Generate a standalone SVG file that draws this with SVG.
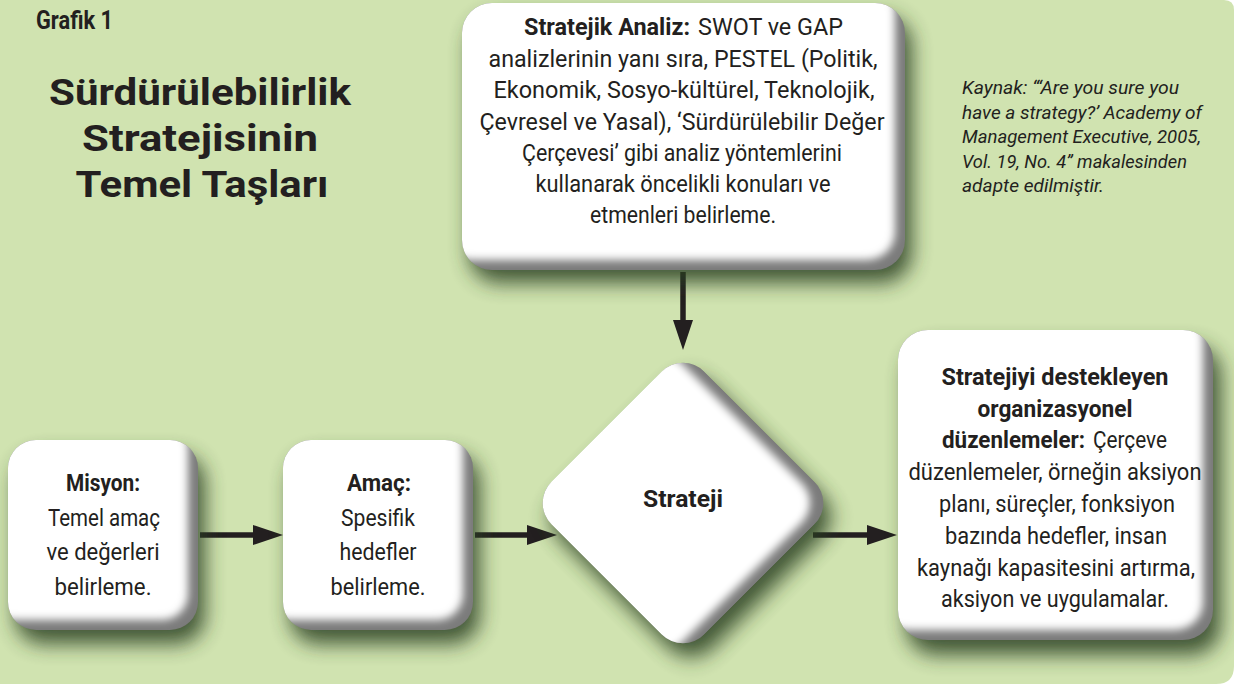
<svg xmlns="http://www.w3.org/2000/svg" width="1234" height="684" viewBox="0 0 1234 684">
<style>
text{font-family:Roboto,"Liberation Sans",sans-serif;fill:#231f20;}
.t{font-size:24px;text-anchor:middle;}
.s{font-size:24px;text-anchor:start;}
.e{font-size:24px;text-anchor:end;}
.b{font-weight:bold;}
.title{font-size:37px;font-weight:bold;text-anchor:middle;}
.src{font-size:18.5px;font-style:italic;}
.sh{fill:#2c3f20;opacity:0.85;}
.base{fill:#7b7b7b;}
.face{fill:#ffffff;}
.con{stroke:#231f20;stroke-width:5.5;fill:none;}
</style>
<defs>
<filter id="shf" x="-30%" y="-30%" width="160%" height="160%"><feGaussianBlur stdDeviation="10"/></filter>
<filter id="bev" x="-20%" y="-20%" width="140%" height="140%"><feGaussianBlur stdDeviation="4.5"/></filter>
<marker id="ah" viewBox="0 0 30 20" refX="0" refY="10" markerWidth="30" markerHeight="20" markerUnits="userSpaceOnUse" orient="auto"><path d="M0,0 L30,10 L0,20 Z" fill="#231f20"/></marker>
<clipPath id="c-top"><rect x="462" y="3" width="443" height="267" rx="30"/></clipPath>
<clipPath id="c-mis"><rect x="8" y="440" width="190" height="190" rx="28"/></clipPath>
<clipPath id="c-ama"><rect x="283" y="440" width="190" height="190" rx="28"/></clipPath>
<clipPath id="c-rig"><rect x="898" y="330" width="315" height="310" rx="30"/></clipPath>
<clipPath id="c-str"><rect x="575" y="395" width="216" height="216" rx="30"/></clipPath>
</defs>

<rect x="0" y="0" width="1234" height="684" fill="#d0e3b0"/>
<path d="M1224,0 Q1234,0 1234,10 L1234,0 Z" fill="#ffffff"/>

<g id="heading">
<text x="36" y="29" class="b" style="font-size:26px" textLength="77" lengthAdjust="spacingAndGlyphs">Grafik 1</text>
<text x="200" y="105" class="title" textLength="302" lengthAdjust="spacingAndGlyphs">Sürdürülebilirlik</text>
<text x="200" y="151" class="title" textLength="236" lengthAdjust="spacingAndGlyphs">Stratejisinin</text>
<text x="202" y="197" class="title" textLength="253" lengthAdjust="spacingAndGlyphs">Temel Taşları</text>
</g>

<g id="source">
<text x="962" y="94" class="src" textLength="217" lengthAdjust="spacingAndGlyphs">Kaynak: “‘Are you sure you</text>
<text x="962" y="118.5" class="src" textLength="240" lengthAdjust="spacingAndGlyphs">have a strategy?’ Academy of</text>
<text x="962" y="143" class="src" textLength="239" lengthAdjust="spacingAndGlyphs">Management Executive, 2005,</text>
<text x="962" y="167.5" class="src" textLength="225" lengthAdjust="spacingAndGlyphs">Vol. 19, No. 4” makalesinden</text>
<text x="962" y="192" class="src" textLength="142" lengthAdjust="spacingAndGlyphs">adapte edilmiştir.</text>
</g>

<g id="connectors">
<path class="con" d="M683,272 V320" marker-end="url(#ah)"/>
<path class="con" d="M200,535 H253" marker-end="url(#ah)"/>
<path class="con" d="M475,535 H527" marker-end="url(#ah)"/>
<path class="con" d="M813,535 H867" marker-end="url(#ah)"/>
</g>

<g id="node-analiz">
<rect class="sh" x="469" y="16" width="443" height="267" rx="30" filter="url(#shf)"/>
<g clip-path="url(#c-top)">
<rect class="base" x="462" y="3" width="443" height="267"/>
<rect class="face" x="442" y="-17" width="453" height="277" rx="28" filter="url(#bev)"/>
</g>
<text x="524" y="35" class="s b" textLength="166" lengthAdjust="spacingAndGlyphs">Stratejik Analiz:</text>
<text x="843" y="35" class="e" textLength="145" lengthAdjust="spacingAndGlyphs">SWOT ve GAP</text>
<text x="683" y="66.5" class="t" textLength="389" lengthAdjust="spacingAndGlyphs">analizlerinin yanı sıra, PESTEL (Politik,</text>
<text x="684" y="98" class="t" textLength="381" lengthAdjust="spacingAndGlyphs">Ekonomik, Sosyo-kültürel, Teknolojik,</text>
<text x="682" y="129.5" class="t" textLength="405" lengthAdjust="spacingAndGlyphs">Çevresel ve Yasal), ‘Sürdürülebilir Değer</text>
<text x="682" y="161" class="t" textLength="320" lengthAdjust="spacingAndGlyphs">Çerçevesi’ gibi analiz yöntemlerini</text>
<text x="683" y="192" class="t" textLength="295" lengthAdjust="spacingAndGlyphs">kullanarak öncelikli konuları ve</text>
<text x="683" y="223" class="t" textLength="186" lengthAdjust="spacingAndGlyphs">etmenleri belirleme.</text>
</g>

<g id="node-misyon">
<rect class="sh" x="15" y="454" width="190" height="190" rx="28" filter="url(#shf)"/>
<g clip-path="url(#c-mis)">
<rect class="base" x="8" y="440" width="190" height="190"/>
<rect class="face" x="-12" y="420" width="200" height="200" rx="26" filter="url(#bev)"/>
</g>
<text x="103" y="491" class="t b" textLength="74" lengthAdjust="spacingAndGlyphs">Misyon:</text>
<text x="104" y="526" class="t" textLength="112" lengthAdjust="spacingAndGlyphs">Temel amaç</text>
<text x="103" y="560" class="t" textLength="113" lengthAdjust="spacingAndGlyphs">ve değerleri</text>
<text x="103" y="595" class="t" textLength="97" lengthAdjust="spacingAndGlyphs">belirleme.</text>
</g>

<g id="node-amac">
<rect class="sh" x="290" y="454" width="190" height="190" rx="28" filter="url(#shf)"/>
<g clip-path="url(#c-ama)">
<rect class="base" x="283" y="440" width="190" height="190"/>
<rect class="face" x="263" y="420" width="200" height="200" rx="26" filter="url(#bev)"/>
</g>
<text x="379" y="491" class="t b" textLength="64" lengthAdjust="spacingAndGlyphs">Amaç:</text>
<text x="378" y="526" class="t" textLength="74" lengthAdjust="spacingAndGlyphs">Spesifik</text>
<text x="378" y="560" class="t" textLength="77" lengthAdjust="spacingAndGlyphs">hedefler</text>
<text x="378" y="595" class="t" textLength="95" lengthAdjust="spacingAndGlyphs">belirleme.</text>
</g>

<g id="node-strateji">
<rect class="sh" x="575" y="395" width="216" height="216" rx="30" filter="url(#shf)" transform="translate(8 14) rotate(-45 683 503)"/>
<g transform="rotate(-45 683 503)">
<g clip-path="url(#c-str)">
<rect class="base" x="575" y="395" width="216" height="216"/>
<rect class="face" x="555" y="375" width="226" height="226" rx="28" filter="url(#bev)"/>
</g>
</g>
<text x="683" y="507" class="t b" textLength="80" lengthAdjust="spacingAndGlyphs">Strateji</text>
</g>

<g id="node-duzen">
<rect class="sh" x="906" y="345" width="315" height="310" rx="30" filter="url(#shf)"/>
<g clip-path="url(#c-rig)">
<rect class="base" x="898" y="330" width="315" height="310"/>
<rect class="face" x="878" y="310" width="325" height="320" rx="28" filter="url(#bev)"/>
</g>
<text x="1055" y="385" class="t b" textLength="227" lengthAdjust="spacingAndGlyphs">Stratejiyi destekleyen</text>
<text x="1055" y="417" class="t b" textLength="155" lengthAdjust="spacingAndGlyphs">organizasyonel</text>
<text x="942" y="448" class="s b" textLength="143" lengthAdjust="spacingAndGlyphs">düzenlemeler:</text>
<text x="1167" y="448" class="e" textLength="74" lengthAdjust="spacingAndGlyphs">Çerçeve</text>
<text x="1055" y="480" class="t" textLength="293" lengthAdjust="spacingAndGlyphs">düzenlemeler, örneğin aksiyon</text>
<text x="1057" y="512" class="t" textLength="236" lengthAdjust="spacingAndGlyphs">planı, süreçler, fonksiyon</text>
<text x="1056" y="544" class="t" textLength="222" lengthAdjust="spacingAndGlyphs">bazında hedefler, insan</text>
<text x="1056" y="576" class="t" textLength="278" lengthAdjust="spacingAndGlyphs">kaynağı kapasitesini artırma,</text>
<text x="1055" y="607" class="t" textLength="228" lengthAdjust="spacingAndGlyphs">aksiyon ve uygulamalar.</text>
</g>

<path d="M1234,666 Q1234,684 1216,684 L1234,684 Z" fill="#ffffff"/>
</svg>
